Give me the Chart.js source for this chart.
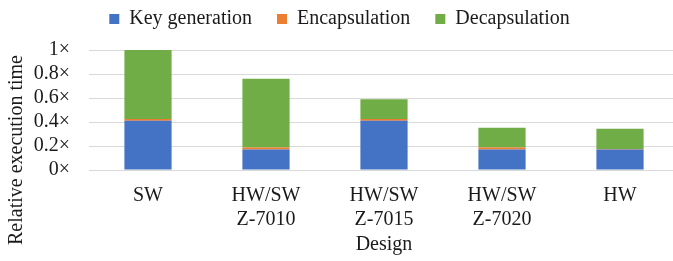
<!DOCTYPE html>
<html>
<head>
<meta charset="utf-8">
<script src="https://cdn.jsdelivr.net/npm/chart.js@4"></script>
<style>
  html, body { margin: 0; padding: 0; overflow: hidden; background: #fff; }
  #wrap { width: 679px; height: 261px; }
</style>
</head>
<body>
<div id="wrap"><canvas id="myGraph"></canvas></div>
<script>
(() => {

//----- Variables -----//

    var designs = [['SW'], ['HW/SW', 'Z-7010'], ['HW/SW', 'Z-7015'], ['HW/SW', 'Z-7020'], ['HW']]
    var keyGeneration = [0.41, 0.17, 0.41, 0.17, 0.17]
    var encapsulation = [0.015, 0.017, 0.015, 0.017, 0.004]
    var decapsulation = [0.575, 0.573, 0.165, 0.166, 0.17]
    var yTicks = [0, 0.2, 0.4, 0.6, 0.8, 1]

    var serif = 'Liberation Serif, Times New Roman, serif'
    var textColor = '#1a1a1a'

//----- Plugins -----//

    // legend sits higher than chart.js wants, so squeeze its box
    const legendBox = {
      id: 'legendBox',
      beforeInit (chart) {
        const fit = chart.legend.fit
        chart.legend.fit = function () {
          fit.bind(chart.legend)()
          this.height = 66
        }
      }
    }

    // y title is centred lower than the plot area
    const yTitle = {
      id: 'yTitle',
      afterDraw (chart) {
        const ctx = chart.ctx
        ctx.save()
        ctx.translate(17, 150)
        ctx.rotate(-Math.PI / 2)
        ctx.font = '20px ' + serif
        ctx.fillStyle = textColor
        ctx.textAlign = 'center'
        ctx.textBaseline = 'middle'
        ctx.fillText('Relative execution time', 0, 0)
        ctx.restore()
      }
    }

//----- construct chart -----//

    const data = {
      labels: designs,
      datasets: [
        { label: 'Key generation', data: keyGeneration, backgroundColor: '#4472C4' },
        { label: 'Encapsulation', data: encapsulation, backgroundColor: '#ED7D31' },
        { label: 'Decapsulation', data: decapsulation, backgroundColor: '#70AD47' }
      ]
    }

    const myChart = new Chart(
      document.getElementById('myGraph'), {
        type: 'bar',
        data: data,
        plugins: [legendBox, yTitle],
        options: {
          responsive: true,
          maintainAspectRatio: false,
          animation: false,
          datasets: { bar: { barPercentage: 0.4, categoryPercentage: 1 } },
          layout: { padding: { top: -16, left: 0, right: 0, bottom: 0 } },
          plugins: {
            tooltip: { enabled: false },
            legend: {
              position: 'top',
              labels: {
                boxWidth: 10,
                boxHeight: 10,
                padding: 25,
                color: textColor,
                font: { family: serif, size: 20 }
              }
            }
          },
          scales: {
            x: {
              stacked: true,
              afterFit (scale) { scale.height = 91 },
              grid: { display: false },
              border: { display: false },
              ticks: {
                padding: 6,
                color: textColor,
                maxRotation: 0,
                font: { family: serif, size: 20, lineHeight: 1.2 }
              },
              title: {
                display: true,
                text: 'Design',
                color: textColor,
                padding: { top: 4, bottom: 4 },
                font: { family: serif, size: 20, lineHeight: 1.2 }
              }
            },
            y: {
              stacked: true,
              min: 0,
              max: 1,
              afterFit (scale) { scale.width = 89 },
              afterBuildTicks (scale) { scale.ticks = yTicks.map(v => ({ value: v })) },
              grid: { color: '#d9d9d9', lineWidth: 1, drawTicks: false },
              border: { display: false },
              ticks: {
                autoSkip: false,
                padding: 19,
                color: textColor,
                font: { family: serif, size: 20 },
                callback: v => Math.round(v * 10) / 10 + '×'
              }
            }
          }
        }
      }
    )

})();
</script>
</body>
</html>
